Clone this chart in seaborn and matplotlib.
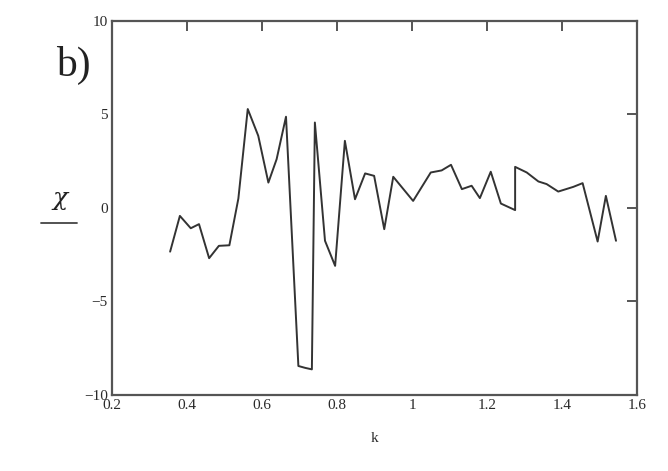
import numpy as np
import pandas as pd
import seaborn as sns
import matplotlib
matplotlib.use("Agg")
import matplotlib.pyplot as plt
from matplotlib.lines import Line2D

k = [0.355, 0.381, 0.410, 0.432, 0.459, 0.485, 0.513, 0.537, 0.562, 0.590,
     0.617, 0.639, 0.664, 0.697, 0.715, 0.733, 0.741, 0.768, 0.795, 0.821,
     0.848, 0.875, 0.899, 0.926, 0.950, 1.003, 1.050, 1.079, 1.104, 1.133,
     1.159, 1.181, 1.210, 1.237, 1.275, 1.275, 1.306, 1.337, 1.359, 1.390,
     1.430, 1.455, 1.495, 1.517, 1.544]
chi = [-2.34, -0.43, -1.09, -0.87, -2.69, -2.03, -2.00, 0.50, 5.28, 3.85,
       1.35, 2.60, 4.87, -8.45, -8.55, -8.63, 4.56, -1.76, -3.10, 3.58,
       0.46, 1.84, 1.71, -1.14, 1.66, 0.37, 1.89, 2.00, 2.30, 1.00,
       1.18, 0.52, 1.93, 0.23, -0.12, 2.19, 1.89, 1.41, 1.27, 0.87,
       1.12, 1.32, -1.80, 0.64, -1.76]
xticks = [0.2, 0.4, 0.6, 0.8, 1.0, 1.2, 1.4, 1.6]
xticklabels = ["0.2", "0.4", "0.6", "0.8", "1", "1.2", "1.4", "1.6"]
yticks = [-10, -5, 0, 5, 10]
yticklabels = ["\u221210", "\u22125", "0", "5", "10"]

sns.set_style("white")
plt.rcParams['font.family'] = ['Liberation Serif', 'DejaVu Serif']

df = pd.DataFrame({"k": k, "chi": chi})

fig = plt.figure(figsize=(6.68, 4.71), dpi=100)
ax = fig.add_axes([112/668, 1 - 395/471, (637-112)/668, (395-20.7)/471])
sns.lineplot(data=df, x="k", y="chi", estimator=None, sort=False,
             color="#333333", linewidth=1.4, ax=ax)

ax.set_xlim(0.2, 1.6)
ax.set_ylim(-10, 10)
ax.set_xticks(xticks)
ax.set_xticklabels(xticklabels)
ax.set_yticks(yticks)
ax.set_yticklabels(yticklabels)
for s in ax.spines.values():
    s.set_color("#555555")
    s.set_linewidth(1.6)
ax.tick_params(direction="in", length=7, width=1.4, color="#555555",
               top=True, right=True, labelsize=11, labelcolor="#2a2a2a",
               pad=3)
ax.set_xlabel("k", fontsize=11, color="#2a2a2a", labelpad=14)
ax.set_ylabel("")

fig.text(73/668, 1 - 65/471, "b)", fontsize=30, color="#222222",
         ha="center", va="center")
fig.text(60/668, 1 - 199/471, "\u03c7", fontsize=18, color="#222222",
         ha="center", va="center", family="DejaVu Serif", style="italic")
fig.add_artist(Line2D([41/668, 77/668], [1 - 223/471, 1 - 223/471],
                      color="#444444", linewidth=1.3))

fig.savefig("out.png", dpi=100)
